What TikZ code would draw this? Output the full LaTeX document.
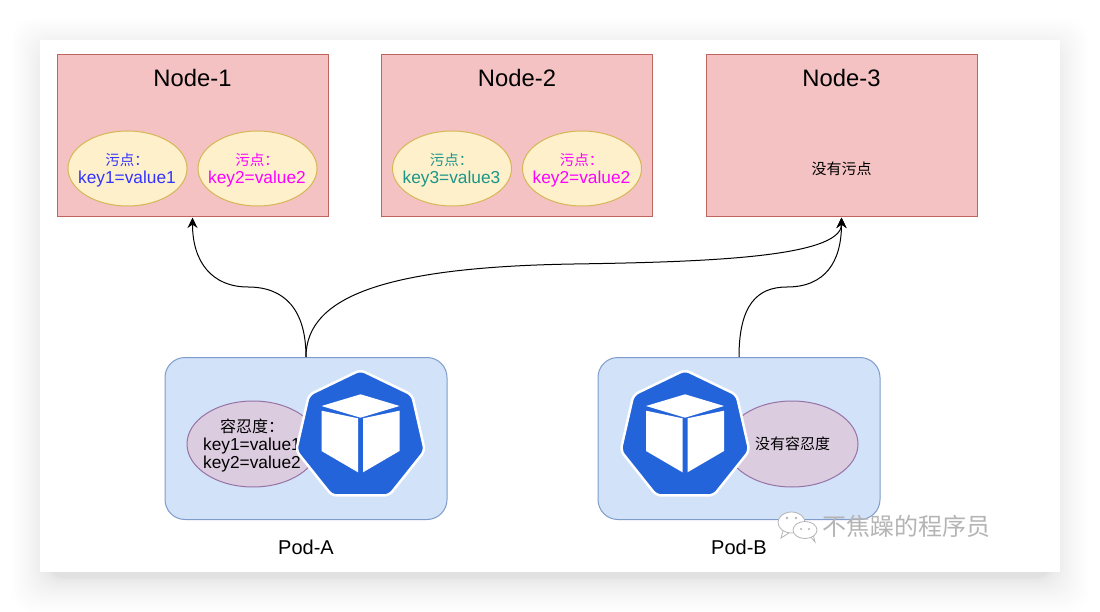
\documentclass[tikz,border=0pt]{standalone}
\usepackage{fontspec}
\setmainfont{Liberation Sans}
\newfontfamily\cjk{Noto Sans CJK SC}
\usetikzlibrary{shapes.geometric, arrows.meta, positioning, calc}
\definecolor{nodefill}{HTML}{F4C2C2}
\definecolor{nodeline}{HTML}{C06460}
\definecolor{taintfill}{HTML}{FDF0CB}
\definecolor{taintline}{HTML}{D6B656}
\definecolor{podfill}{HTML}{D2E2F8}
\definecolor{podline}{HTML}{7F9DCB}
\definecolor{tolerfill}{HTML}{DCCCE0}
\definecolor{tolerline}{HTML}{9673A6}
\definecolor{kubeblue}{HTML}{2464DA}
\definecolor{taintblue}{HTML}{3333FF}
\definecolor{taintpink}{HTML}{FF00FF}
\definecolor{taintteal}{HTML}{1A9688}
\definecolor{markgray}{HTML}{B4B4B4}
\tikzstyle{arrow} = [line width=1pt,-{Stealth[length=10.5pt,width=10pt]}]
\tikzstyle{nodebox} = [draw=nodeline, fill=nodefill, line width=1pt, minimum width=271pt, minimum height=162pt, inner sep=0pt]
\tikzstyle{taint} = [ellipse, draw=taintline, fill=taintfill, line width=1pt, minimum width=119pt, minimum height=75pt, inner sep=0pt]
\tikzstyle{podbox} = [draw=podline, fill=podfill, line width=1pt, rounded corners=20pt, minimum width=282pt, minimum height=162pt, inner sep=0pt]
\tikzstyle{toler} = [ellipse, draw=tolerline, fill=tolerfill, line width=1pt, minimum width=132pt, minimum height=86pt, inner sep=0pt]
\tikzstyle{kube} = [regular polygon, regular polygon sides=7, minimum size=132pt, inner sep=0pt, draw=white, line width=2.5pt, fill=kubeblue, rounded corners=5pt]
\tikzstyle{title} = [font=\fontsize{23.8}{28}\selectfont]
\tikzstyle{podlabel} = [font=\fontsize{20}{24}\selectfont]
\tikzstyle{keytext} = [align=center, font=\fontsize{17.3}{18.4}\selectfont]
\tikzstyle{bubble} = [fill=white, draw=markgray, line width=0.8pt]
\newcommand{\taintword}{{\cjk\fontsize{14.5}{18.4}\selectfont 污点：}}
\newcommand{\tolerword}{{\cjk\fontsize{16}{18.4}\selectfont 容忍度：}}
\newcommand{\kubecube}[1]{
  \fill[white] ($(#1)+(0,-41.7)$) -- ++(39,11.7) -- ++(-39,11.7) -- ++(-39,-11.7) -- cycle;
  \fill[white] ($(#1)+(-39,-25.3)$) -- ++(36.5,7.6) -- ++(0,54) -- ++(-36.5,-21.3) -- cycle;
  \fill[white] ($(#1)+(39,-25.3)$) -- ++(-36.5,7.6) -- ++(0,54) -- ++(36.5,-21.3) -- cycle;
}

\begin{document}
\begin{tikzpicture}[x=1pt,y=-1pt]
\useasboundingbox (0,0) rectangle (1100,612);

% Sheet with soft shadow
\foreach \i [evaluate=\i as \e using 34*(\i/30)^2] in {1,...,30} {
  \fill[black, opacity=0.0045, rounded corners=20pt] (46-\e,52-\e) rectangle (1054+\e,578+\e);
}
\fill[white] (40,40) rectangle (1060,572);

% Boxes
\node[nodebox] (node1) at (192.5,136) {};
\node[nodebox] (node2) at (517,136) {};
\node[nodebox] (node3) at (841.5,136) {};
\node[podbox] (podA) at (306,438.5) {};
\node[podbox] (podB) at (739,438.5) {};

% Connectors
\coordinate (midA1) at (248,287);
\coordinate (midA3) at (574,264);
\coordinate (midB3) at (787,287);
\draw[arrow] (podA.north) .. controls (306,310) and (285,287) .. (midA1) .. controls (212,287) and (192.5,262) .. (node1.south);
\draw[arrow] (podA.north) .. controls (306,295) and (390,267) .. (midA3) .. controls (700,262) and (841.5,258) .. (node3.south);
\draw[arrow] (podB.north) .. controls (739,305) and (757,287) .. (midB3) .. controls (825,287) and (841.5,262) .. (node3.south);

% Node titles
\node[title] (title1) at (192.5,78) {Node-1};
\node[title] (title2) at (517,78) {Node-2};
\node[title] (title3) at (841.5,78) {Node-3};

% Taints
\node[taint] (taint1) at (127.5,168.5) {};
\node[taint] (taint2) at (257.5,168.5) {};
\node[taint] (taint3) at (452,168.5) {};
\node[taint] (taint4) at (582,168.5) {};
\node[keytext, text=taintblue] (text1) at (127,170) {\taintword\\key1=value1};
\node[keytext, text=taintpink] (text2) at (257,170) {\taintword\\key2=value2};
\node[keytext, text=taintteal] (text3) at (451.5,170) {\taintword\\key3=value3};
\node[keytext, text=taintpink] (text4) at (581.5,170) {\taintword\\key2=value2};
\node[font=\cjk\fontsize{15}{18}\selectfont] (text5) at (841.5,169) {没有污点};

% Pod-A
\node[toler] (tolerA) at (253,444) {};
\node[keytext] (tolerAtext) at (252,445.5) {\tolerword\\key1=value1\\key2=value2};
\node[kube] (kubeA) at (360.5,436) {};
\kubecube{kubeA.center}
\node[podlabel] (labelA) at (306,547) {Pod-A};

% Pod-B
\node[toler] (tolerB) at (792,444) {};
\node[font=\cjk\fontsize{15}{18}\selectfont] (tolerBtext) at (792.5,444) {没有容忍度};
\node[kube] (kubeB) at (685,436) {};
\kubecube{kubeB.center}
\node[podlabel] (labelB) at (739,547) {Pod-B};

% Watermark
\draw[bubble] (783,531) -- (781,538) -- (789,533);
\draw[bubble] (791.5,522.5) ellipse (13.5pt and 10.5pt);
\draw[bubble] (810,536) -- (815,542) -- (813,534);
\draw[bubble] (805,530) ellipse (12pt and 8.5pt);
\fill[markgray] (787,518) circle (1.3pt) (796,518) circle (1.3pt);
\fill[markgray] (801,529) circle (1.1pt) (809,529) circle (1.1pt);
\node[font=\cjk\fontsize{24}{28}\selectfont, text=markgray] (mark) at (906,526) {不焦躁的程序员};
\end{tikzpicture}
\end{document}
